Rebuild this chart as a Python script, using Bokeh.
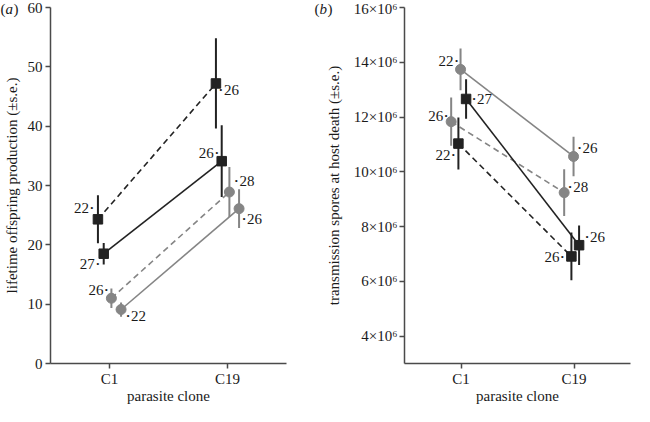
from bokeh.plotting import figure
from bokeh.layouts import row
from bokeh.models import Label, CustomJSTickFormatter, FixedTicker, Range1d
from bokeh.core.properties import value
from bokeh.embed import file_html
from bokeh.resources import INLINE

# ---------------- data ----------------
clones = ["C1", "C19"]

# (a) lifetime offspring production, mean and s.e.
offspring_black_dashed = [24.3, 47.2]
offspring_black_dashed_se = [4.05, 7.6]
offspring_black_dashed_n = [22, 26]
offspring_black_solid = [18.5, 34.1]
offspring_black_solid_se = [1.8, 6.05]
offspring_black_solid_n = [27, 26]
offspring_gray_dashed = [11.0, 28.9]
offspring_gray_dashed_se = [1.65, 4.2]
offspring_gray_dashed_n = [26, 28]
offspring_gray_solid = [9.1, 26.1]
offspring_gray_solid_se = [1.2, 3.25]
offspring_gray_solid_n = [22, 26]

# (b) transmission spores at host death, mean and s.e.
spores_black_dashed = [11.03e6, 6.91e6]
spores_black_dashed_se = [0.95e6, 0.87e6]
spores_black_dashed_n = [22, 26]
spores_black_solid = [12.66e6, 7.32e6]
spores_black_solid_se = [0.72e6, 0.72e6]
spores_black_solid_n = [27, 26]
spores_gray_dashed = [11.83e6, 9.24e6]
spores_gray_dashed_se = [0.88e6, 0.85e6]
spores_gray_dashed_n = [26, 28]
spores_gray_solid = [13.74e6, 10.56e6]
spores_gray_solid_se = [0.76e6, 0.72e6]
spores_gray_solid_n = [22, 26]

offspring_ticks = [0, 10, 20, 30, 40, 50, 60]
spores_ticks = [4e6, 6e6, 8e6, 10e6, 12e6, 14e6, 16e6]

# ---------------- style ----------------
BLACK = "#222222"
GRAY = "#858585"
AXIS = "#4a4a4a"
FONT = "Liberation Serif"

W, H = 634, 406
TOP, BOTTOM = 7, 40


def style_axes(p):
    p.xgrid.visible = False
    p.ygrid.visible = False
    p.outline_line_color = None
    p.background_fill_color = "white"
    p.border_fill_color = "white"
    for ax in (p.xaxis[0], p.yaxis[0]):
        ax.axis_line_color = AXIS
        ax.axis_line_width = 1.5
        ax.major_tick_line_color = AXIS
        ax.major_tick_line_width = 1.5
        ax.major_tick_out = 5
        ax.major_tick_in = 0
        ax.minor_tick_line_color = None
        ax.major_label_text_font = FONT
        ax.major_label_text_font_size = "15px"
        ax.major_label_text_color = "#1a1a1a"
        ax.major_label_text_line_height = 1.0
        ax.axis_label_text_font = FONT
        ax.axis_label_text_font_size = "15px"
        ax.axis_label_text_font_style = "normal"
        ax.axis_label_text_color = "#1a1a1a"
        ax.axis_label_text_line_height = 1.0
        ax.major_label_standoff = 3
    p.yaxis[0].axis_label_standoff = 5
    p.xaxis[0].major_label_standoff = 2
    p.xaxis[0].axis_label_standoff = -2
    p.xaxis[0].ticker = FixedTicker(ticks=[1, 2])
    p.xaxis[0].major_label_overrides = {1: clones[0], 2: clones[1]}
    p.xaxis[0].axis_label = "parasite clone"


def draw_series(p, mean, se, ns, color, dash, marker, dodge, dots):
    xs = [i + 1 + dodge for i in range(len(clones))]
    lo = [m - s for m, s in zip(mean, se)]
    hi = [m + s for m, s in zip(mean, se)]
    p.line(xs, mean, line_color=color, line_width=1.6, line_dash=dash)
    p.segment(xs, lo, xs, hi, line_color=color, line_width=2)
    if marker == "square":
        p.scatter(xs, mean, marker="square", size=9.5, fill_color=color, line_color=color)
    else:
        p.scatter(xs, mean, marker="circle", size=10, fill_color=color, line_color=color)
    for x, m, n, (dx, dy, side) in zip(xs, mean, ns, dots):
        p.text(x=[x], y=[m], text=["•"], x_offset=dx, y_offset=dy,
               text_font=value(FONT), text_font_size="9px", text_color="#1a1a1a",
               text_align="center", text_baseline="middle")
        if side == "r":
            p.text(x=[x], y=[m], text=[str(n)], x_offset=dx + 3, y_offset=dy,
                   text_font=value(FONT), text_font_size="15px", text_color="#1a1a1a",
                   text_align="left", text_baseline="middle")
        else:
            p.text(x=[x], y=[m], text=[str(n)], x_offset=dx - 3, y_offset=dy,
                   text_font=value(FONT), text_font_size="15px", text_color="#1a1a1a",
                   text_align="right", text_baseline="middle")


def panel_letter(p, letter, side, x0):
    # canvas-positioned letters kept in a side panel so the frame does not clip them
    for txt, xx, style in (("(", 0, "normal"), (letter, 5, "italic"), (")", 13, "normal")):
        p.add_layout(Label(x=x0 + xx, y=8, x_units="canvas", y_units="canvas", text=txt,
                           text_font=FONT, text_font_size="15px", text_font_style=style,
                           text_baseline="middle", text_color="#1a1a1a"), side)


# ---------------- panel (a) ----------------
LW = 304
pa = figure(width=LW, height=H, output_backend="svg", toolbar_location=None,
            x_range=Range1d(0.5, 2.5), y_range=Range1d(0, 60),
            min_border_left=46, min_border_right=14,
            min_border_top=TOP, min_border_bottom=BOTTOM)
style_axes(pa)
pa.yaxis[0].ticker = FixedTicker(ticks=offspring_ticks)
pa.yaxis[0].axis_label = "lifetime offspring production (±s.e.)"

draw_series(pa, offspring_black_dashed, offspring_black_dashed_se, offspring_black_dashed_n,
            BLACK, "6 4", "square", -0.098, [(-6, -11, "l"), (5, 7, "r")])
draw_series(pa, offspring_black_solid, offspring_black_solid_se, offspring_black_solid_n,
            BLACK, "solid", "square", -0.049, [(-6, 10, "l"), (-5, -8, "l")])
draw_series(pa, offspring_gray_dashed, offspring_gray_dashed_se, offspring_gray_dashed_n,
            GRAY, "6 4", "circle", 0.016, [(-5, -8, "l"), (7, -11, "r")])
draw_series(pa, offspring_gray_solid, offspring_gray_solid_se, offspring_gray_solid_n,
            GRAY, "solid", "circle", 0.098, [(7, 6, "r"), (5, 10, "r")])
panel_letter(pa, "a", "right", 0)

# ---------------- panel (b) ----------------
RW = W - LW
pb = figure(width=RW, height=H, output_backend="svg", toolbar_location=None,
            x_range=Range1d(0.5, 2.5), y_range=Range1d(3e6, 16e6),
            min_border_left=78, min_border_right=4,
            min_border_top=TOP, min_border_bottom=BOTTOM)
style_axes(pb)
pb.yaxis[0].major_label_standoff = 2
pb.yaxis[0].axis_label_standoff = 9
pb.yaxis[0].ticker = FixedTicker(ticks=spores_ticks)
pb.yaxis[0].formatter = CustomJSTickFormatter(
    code="return (tick / 1e6).toFixed(0) + '\u00d710\u2076';")
pb.yaxis[0].axis_label = "transmission spores at host death (±s.e.)"

draw_series(pb, spores_gray_solid, spores_gray_solid_se, spores_gray_solid_n,
            GRAY, "solid", "circle", -0.004, [(-4, -8, "l"), (6, -8, "r")])
draw_series(pb, spores_gray_dashed, spores_gray_dashed_se, spores_gray_dashed_n,
            GRAY, "6 4", "circle", -0.087, [(-5, -6, "l"), (6, -6, "r")])
draw_series(pb, spores_black_dashed, spores_black_dashed_se, spores_black_dashed_n,
            BLACK, "6 4", "square", -0.023, [(-5, 11, "l"), (-9, 1, "l")])
draw_series(pb, spores_black_solid, spores_black_solid_se, spores_black_solid_n,
            BLACK, "solid", "square", 0.045, [(8, 0, "r"), (8, -8, "r")])
panel_letter(pb, "b", "left", 10)

layout = row(pa, pb)
open("out.html", "w").write(file_html(layout, INLINE))
